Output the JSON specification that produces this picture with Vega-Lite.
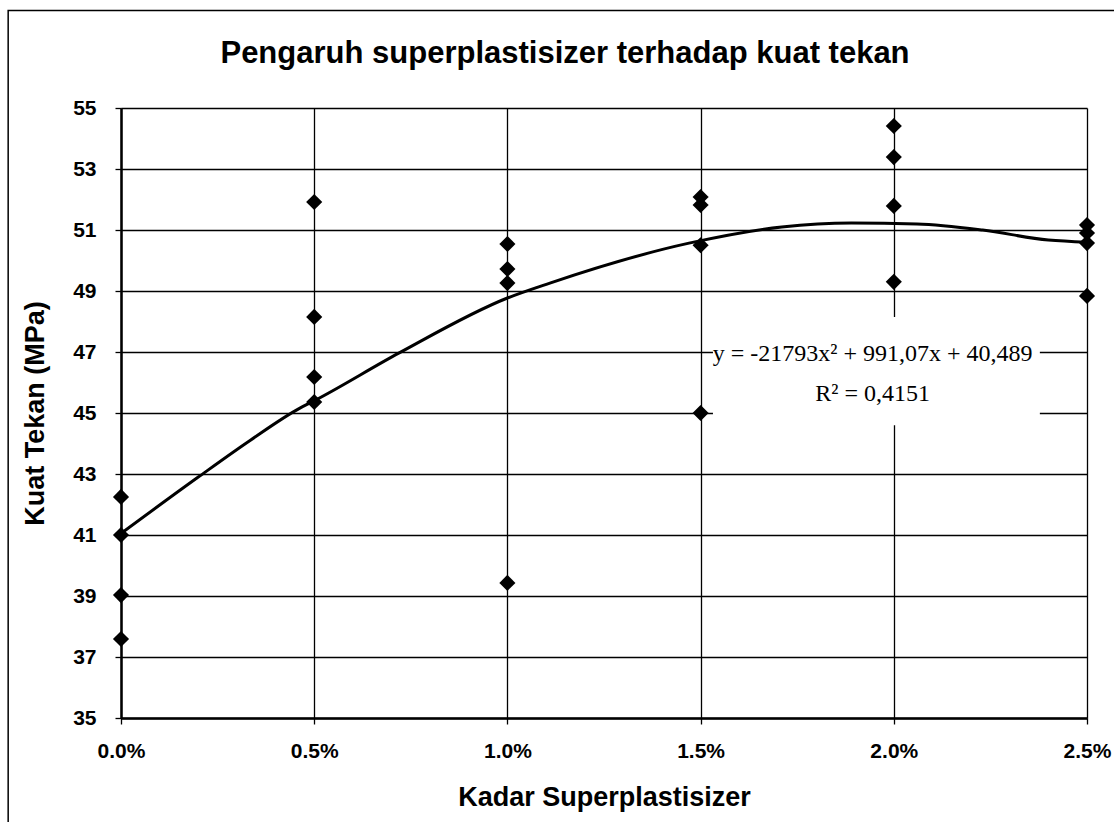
{
  "$schema": "https://vega.github.io/schema/vega-lite/v6.json",
  "width": 966,
  "height": 610,
  "autosize": {"type": "none"},
  "padding": {"left": 121, "top": 108, "right": 27, "bottom": 104},
  "background": "white",
  "config": {
    "view": {"stroke": null},
    "font": "Liberation Sans",
    "axis": {
      "domainColor": "black",
      "domainWidth": 2.5,
      "gridColor": "black",
      "gridOpacity": 1,
      "gridWidth": 1.3,
      "tickColor": "black",
      "tickWidth": 1.3,
      "labelColor": "black",
      "titleColor": "black",
      "labelFont": "Liberation Sans",
      "titleFont": "Liberation Sans",
      "labelFontWeight": "bold",
      "titleFontWeight": "bold"
    }
  },
  "title": {
    "text": "Pengaruh superplastisizer terhadap kuat tekan",
    "font": "Liberation Sans",
    "fontSize": 31,
    "fontWeight": "bold",
    "color": "black",
    "anchor": "middle",
    "frame": "group",
    "dx": -39,
    "offset": -60
  },
  "datasets": {
    "points": [
      {"kadar": 0.0, "kuat": 42.25},
      {"kadar": 0.0, "kuat": 41.0},
      {"kadar": 0.0, "kuat": 39.03},
      {"kadar": 0.0, "kuat": 37.59},
      {"kadar": 0.005, "kuat": 51.92},
      {"kadar": 0.005, "kuat": 48.15},
      {"kadar": 0.005, "kuat": 46.18},
      {"kadar": 0.005, "kuat": 45.36},
      {"kadar": 0.01, "kuat": 50.54},
      {"kadar": 0.01, "kuat": 49.72},
      {"kadar": 0.01, "kuat": 49.26},
      {"kadar": 0.01, "kuat": 39.43},
      {"kadar": 0.015, "kuat": 52.08},
      {"kadar": 0.015, "kuat": 51.82},
      {"kadar": 0.015, "kuat": 50.5},
      {"kadar": 0.015, "kuat": 45.0},
      {"kadar": 0.02, "kuat": 54.41},
      {"kadar": 0.02, "kuat": 53.39},
      {"kadar": 0.02, "kuat": 51.79},
      {"kadar": 0.02, "kuat": 49.3},
      {"kadar": 0.025, "kuat": 51.16},
      {"kadar": 0.025, "kuat": 50.9},
      {"kadar": 0.025, "kuat": 50.57},
      {"kadar": 0.025, "kuat": 48.84}
    ],
    "curve": [
      {"kadar": 0.0, "kuat": 41.05},
      {"kadar": 0.002, "kuat": 42.9},
      {"kadar": 0.00334, "kuat": 44.1},
      {"kadar": 0.00463, "kuat": 45.16},
      {"kadar": 0.005, "kuat": 45.4},
      {"kadar": 0.0072, "kuat": 46.97},
      {"kadar": 0.01, "kuat": 48.77},
      {"kadar": 0.0111, "kuat": 49.26},
      {"kadar": 0.0147, "kuat": 50.57},
      {"kadar": 0.0171, "kuat": 51.1},
      {"kadar": 0.0189, "kuat": 51.23},
      {"kadar": 0.0206, "kuat": 51.2},
      {"kadar": 0.0223, "kuat": 51.0},
      {"kadar": 0.024, "kuat": 50.67},
      {"kadar": 0.025, "kuat": 50.6}
    ],
    "label": [
      {"kadar": 0.01945, "kuat": 46.95, "teks": "y = -21793x² + 991,07x + 40,489"},
      {"kadar": 0.01945, "kuat": 45.62, "teks": "R² = 0,4151"}
    ]
  },
  "layer": [
    {
      "data": {"name": "points"},
      "mark": {"type": "point", "shape": "diamond", "filled": true, "color": "black", "size": 260, "opacity": 1},
      "encoding": {
        "x": {
          "field": "kadar",
          "type": "quantitative",
          "scale": {"domain": [0, 0.025], "nice": false, "zero": false},
          "axis": {
            "title": "Kadar Superplastisizer",
            "titleFontSize": 27,
            "titlePadding": 23,
            "format": ".1%",
            "values": [0, 0.005, 0.01, 0.015, 0.02, 0.025],
            "labelFontSize": 21,
            "labelPadding": 16,
            "tickSize": 6,
            "grid": true,
            "labelFlush": false
          }
        },
        "y": {
          "field": "kuat",
          "type": "quantitative",
          "scale": {"domain": [35, 55], "nice": false, "zero": false},
          "axis": {
            "title": "Kuat Tekan (MPa)",
            "titleFontSize": 27,
            "titlePadding": 23,
            "values": [35, 37, 39, 41, 43, 45, 47, 49, 51, 53, 55],
            "labelFontSize": 21,
            "labelPadding": 19,
            "tickSize": 6,
            "grid": true
          }
        }
      }
    },
    {
      "data": {"name": "curve"},
      "mark": {"type": "line", "color": "black", "strokeWidth": 3, "interpolate": "monotone"},
      "encoding": {
        "x": {"field": "kadar", "type": "quantitative"},
        "y": {"field": "kuat", "type": "quantitative"}
      }
    },
    {
      "data": {"values": [{}]},
      "mark": {"type": "rect", "fill": "white", "stroke": null},
      "encoding": {
        "x": {"datum": 0.01532},
        "x2": {"datum": 0.02378},
        "y": {"datum": 48.15},
        "y2": {"datum": 44.6}
      }
    },
    {
      "data": {"name": "label"},
      "mark": {"type": "text", "font": "Liberation Serif", "fontSize": 24, "color": "black", "align": "center", "baseline": "middle"},
      "encoding": {
        "x": {"field": "kadar", "type": "quantitative"},
        "y": {"field": "kuat", "type": "quantitative"},
        "text": {"field": "teks"}
      }
    },
    {
      "data": {"values": [{}]},
      "mark": {"type": "rect", "fill": null, "stroke": "black", "strokeWidth": 1.5},
      "encoding": {
        "x": {"datum": -0.00292},
        "x2": {"datum": 0.03},
        "y": {"datum": 58.2},
        "y2": {"datum": 30}
      }
    }
  ]
}
